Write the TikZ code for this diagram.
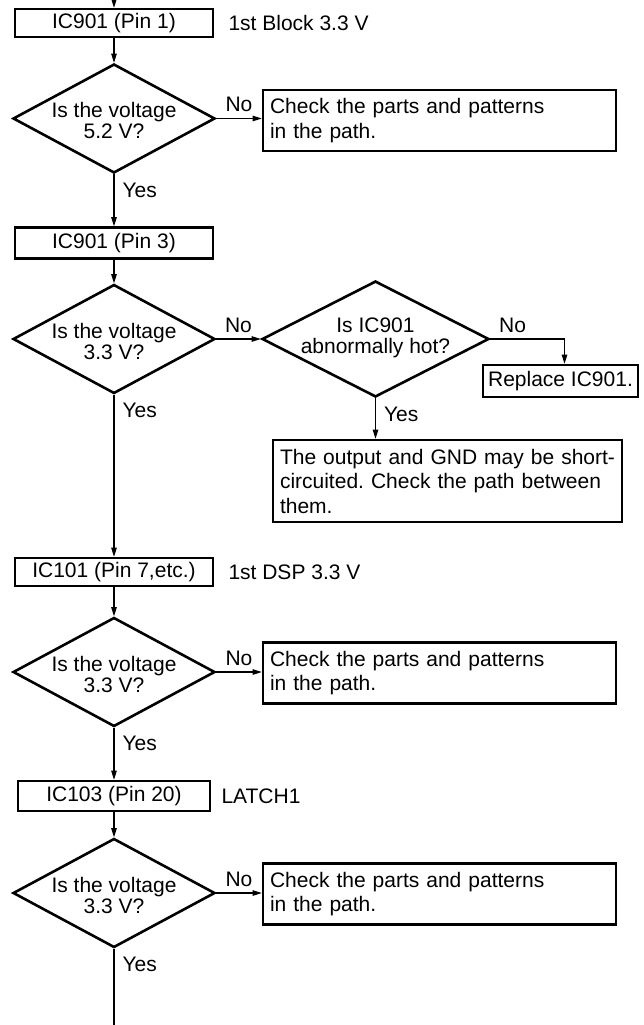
\documentclass[tikz,border=0pt]{standalone}
\usepackage{fontspec}
\setmainfont{Liberation Sans}
\usetikzlibrary{arrows.meta, positioning, shapes.geometric}
\newcommand{\chartsize}{\fontsize{21}{24.5}\selectfont\frenchspacing}
\newcommand{\asksize}{\fontsize{21}{21}\selectfont}

\begin{document}
\begin{tikzpicture}[
  x=1pt, y=-1pt,
  font=\chartsize,
  box/.style={rectangle, draw, line width=2.6pt, minimum width=198pt,
              minimum height=28pt, inner sep=0pt},
  check/.style={rectangle, draw, line width=2.6pt, text width=339pt,
                inner xsep=7pt, inner ysep=0pt, minimum height=61pt, align=left},
  decision/.style={diamond, draw, line width=2.6pt, minimum width=202pt,
                   minimum height=109pt, inner sep=0pt},
  asktext/.style={align=center, inner sep=0pt, font=\asksize},
  note/.style={anchor=west, inner sep=0pt},
  arrow/.style={-{Triangle[length=9pt, width=5.5pt]}, line width=1.1pt},
  conn/.style={line width=1.1pt},
  nolbl/.style={above, inner sep=0pt, yshift=6pt},
  yeslbl/.style={anchor=north west, inner sep=0pt, xshift=8pt, yshift=-8pt}
]
  \useasboundingbox (0,0) rectangle (643,1025);

  % first block
  \coordinate (start) at (114,0);
  \node[box] (pin1) at (114,23) {IC901 (Pin 1)};
  \node[note, right=14pt of pin1] (block) {1st Block 3.3 V};
  \node[decision] (v1) at (114,118.5) {};
  \node[asktext] (v1t) at ([yshift=-2pt]v1.center) {Is the voltage\\5.2 V?};
  \node[check] (chk1) at (439.5,120.5) {Check the parts and patterns\\in the path.};

  \node[box, minimum height=31pt] (pin3) at (114,243) {IC901 (Pin 3)};
  \node[decision] (v2) at (114,339) {};
  \node[asktext] (v2t) at ([yshift=-2pt]v2.center) {Is the voltage\\3.3 V?};
  \node[decision, minimum width=227pt, minimum height=116pt] (hot) at (375.5,339) {};
  \node[asktext] (hott) at ([yshift=1pt]hot.center) {Is IC901\\abnormally hot?};
  \node[box, minimum width=155pt, minimum height=32pt] (rep) at (560.5,381) {Replace IC901.};
  \node[check, text width=335pt, minimum height=82pt] (short) at (447.5,481)
    {The output and GND may be short-\\circuited. Check the path between\\them.};

  % DSP block
  \node[box] (dsp) at (114,572) {IC101 (Pin 7,etc.)};
  \node[note, right=14pt of dsp] (dspv) {1st DSP 3.3 V};
  \node[decision] (v3) at (114,672) {};
  \node[asktext] (v3t) at ([yshift=-2pt]v3.center) {Is the voltage\\3.3 V?};
  \node[check] (chk2) at (439.5,673) {Check the parts and patterns\\in the path.};

  % latch
  \node[box, minimum width=192pt, minimum height=30pt] (latch) at (114,796) {IC103 (Pin 20)};
  \node[note, right=10pt of latch] (latchv) {LATCH1};
  \node[decision] (v4) at (114,893) {};
  \node[asktext] (v4t) at ([yshift=-2pt]v4.center) {Is the voltage\\3.3 V?};
  \node[check] (chk3) at (439.5,894) {Check the parts and patterns\\in the path.};
  \coordinate (end) at (114,1025);

  \draw[arrow] (start) -- (pin1);
  \draw[arrow] (pin1) -- (v1);
  \draw[arrow] (v1.east) -- node[nolbl] (no1) {No} (v1.east -| chk1.west);
  \draw[arrow] (v1) -- node[pos=0, yeslbl] (yes1) {Yes} (pin3);
  \draw[arrow] (pin3) -- (v2);
  \draw[arrow] (v2) -- node[nolbl] (no2) {No} (hot);
  \draw[arrow] (hot.east) -| node[nolbl, pos=0.15] (no3) {No} ([xshift=4pt]rep.north);
  \draw[arrow] (hot.south) -- node[pos=0, yeslbl] (yes3) {Yes} (hot.south |- short.north);
  \draw[arrow] (v2) -- node[pos=0, yeslbl] (yes2) {Yes} (dsp);
  \draw[arrow] (dsp) -- (v3);
  \draw[arrow] (v3.east) -- node[nolbl] (no4) {No} (v3.east -| chk2.west);
  \draw[arrow] (v3) -- node[pos=0, yeslbl] (yes4) {Yes} (latch);
  \draw[arrow] (latch) -- (v4);
  \draw[arrow] (v4.east) -- node[nolbl] (no5) {No} (v4.east -| chk3.west);
  \draw[conn] (v4) -- node[pos=0, yeslbl] (yes5) {Yes} (end);
\end{tikzpicture}
\end{document}
